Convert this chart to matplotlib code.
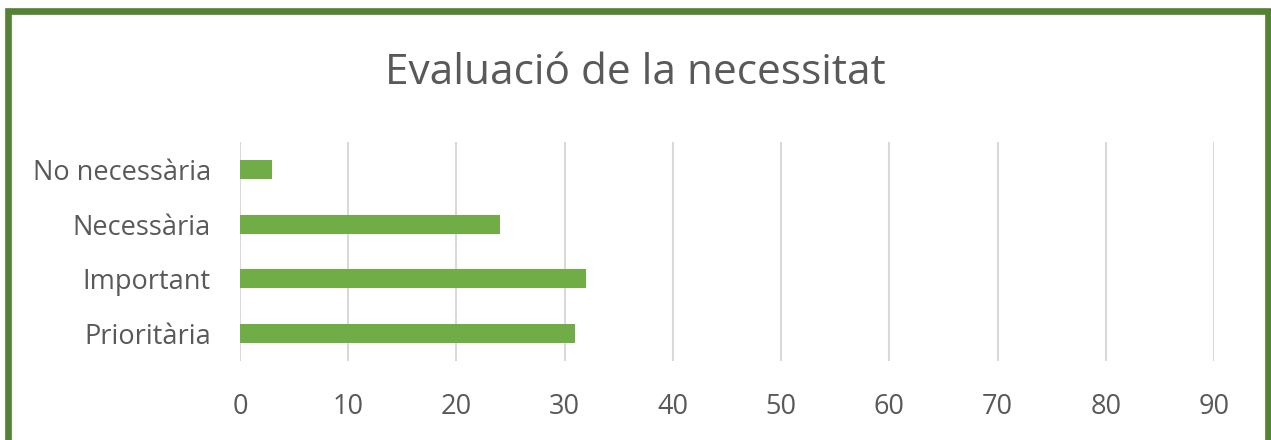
import matplotlib.pyplot as plt
from matplotlib.patches import Rectangle

categories = ["Prioritària", "Important", "Necessària", "No necessària"]
values = [31, 32, 24, 3]
x_ticks = [0, 10, 20, 30, 40, 50, 60, 70, 80, 90]

TEXT = "#595959"
BAR = "#70AD47"
FRAME = "#548235"

plt.rcParams['font.family'] = ['Open Sans', 'DejaVu Sans']

W, H = 1271, 440
fig = plt.figure(figsize=(W / 100, H / 100), dpi=100)

# chart frame, open at the bottom edge
fig.patches.append(Rectangle((8 / W, -0.1), (1268 - 8) / W, 1.1 - 11.5 / H,
                             transform=fig.transFigure, fill=False,
                             edgecolor=FRAME, linewidth=4.8, zorder=10))

ax = fig.add_axes([240 / W, 1 - 361 / H, (1214 - 240) / W, (361 - 142) / H])
ax.barh(range(len(categories)), values, height=0.35, color=BAR, zorder=3)

ax.set_xlim(0, 90)
ax.set_ylim(-0.5, len(categories) - 0.5)
ax.set_xticks(x_ticks)
ax.set_yticks(range(len(categories)))
ax.set_yticklabels(categories)
ax.grid(axis='x', color='#D9D9D9', linewidth=1.5, zorder=0)
for s in ax.spines.values():
    s.set_visible(False)
ax.tick_params(length=0, labelsize=19.5, colors=TEXT)
ax.tick_params(axis='x', pad=23)
ax.tick_params(axis='y', pad=21)

fig.text(0.5, 1 - 73 / H, "Evaluació de la necessitat", ha='center',
         va='center', fontsize=30.5, color=TEXT)

fig.savefig("out.png", dpi=100, facecolor='white')
